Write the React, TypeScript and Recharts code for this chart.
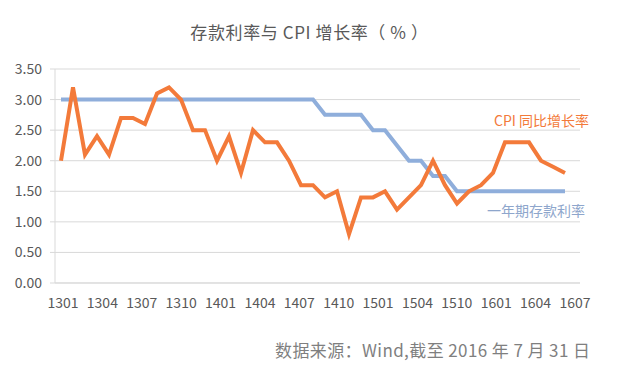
import { CartesianGrid, Line, LineChart, XAxis, YAxis } from 'recharts';

// monthly observations, 1301 .. 1607
const months = [
  '1301', '1302', '1303', '1304', '1305', '1306', '1307', '1308', '1309', '1310', '1311', '1312',
  '1401', '1402', '1403', '1404', '1405', '1406', '1407', '1408', '1409', '1410', '1411', '1412',
  '1501', '1502', '1503', '1504', '1505', '1506', '1507', '1508', '1509', '1510', '1511', '1512',
  '1601', '1602', '1603', '1604', '1605', '1606', '1607',
];

const depositRate = [
  3.0, 3.0, 3.0, 3.0, 3.0, 3.0, 3.0, 3.0, 3.0, 3.0, 3.0, 3.0,
  3.0, 3.0, 3.0, 3.0, 3.0, 3.0, 3.0, 3.0, 3.0, 3.0, 2.75, 2.75,
  2.75, 2.75, 2.5, 2.5, 2.25, 2.0, 2.0, 1.75, 1.75, 1.5, 1.5, 1.5,
  1.5, 1.5, 1.5, 1.5, 1.5, 1.5, 1.5,
];

const cpiGrowth = [
  2.0, 3.2, 2.1, 2.4, 2.1, 2.7, 2.7, 2.6, 3.1, 3.2, 3.0, 2.5,
  2.5, 2.0, 2.4, 1.8, 2.5, 2.3, 2.3, 2.0, 1.6, 1.6, 1.4, 1.5,
  0.8, 1.4, 1.4, 1.5, 1.2, 1.4, 1.6, 2.0, 1.6, 1.3, 1.5, 1.6,
  1.8, 2.3, 2.3, 2.3, 2.0, 1.9, 1.8,
];

// axis labels as printed under the chart (evenly spaced, not tied to months)
const tickLabels = [
  '1301', '1304', '1307', '1310', '1401', '1404', '1407',
  '1410', '1501', '1504', '1510', '1601', '1604', '1607',
];

const yTicks = [0, 0.5, 1, 1.5, 2, 2.5, 3, 3.5];

const FONT = '"Noto Sans CJK SC", "Noto Sans", sans-serif';
const ORANGE = '#F37A3A';
const BLUE = '#8FAEDB';
const GRID = '#D9D9D9';
const TEXT = '#595959';

const chartData = months.map((m, i) => ({
  month: m,
  deposit: depositRate[i],
  cpi: cpiGrowth[i],
}));

const labelData = tickLabels.map((label) => ({ label }));

export default function App() {
  return (
    <div
      style={{
        position: 'absolute',
        left: 0,
        top: 0,
        width: 637,
        height: 378,
        background: '#fff',
        fontFamily: FONT,
      }}
    >
      <div
        style={{
          position: 'absolute',
          top: 19,
          left: 0,
          width: 619,
          textAlign: 'center',
          fontSize: 17,
          letterSpacing: 0.6,
          color: TEXT,
        }}
      >
        存款利率与 CPI 增长率（ % ）
      </div>

      <LineChart
        width={637}
        height={378}
        margin={{ top: 69, right: 57, bottom: 65, left: 10 }}
      >
        <CartesianGrid stroke={GRID} vertical={false} />

        <XAxis
          xAxisId="data"
          dataKey="month"
          hide
          height={0}
          allowDuplicatedCategory={false}
          padding={{ left: 6, right: 15 }}
        />

        <XAxis
          xAxisId="lbl"
          dataKey="label"
          interval={0}
          padding={{ left: 8, right: 5 }}
          height={30}
          axisLine={{ stroke: GRID }}
          tickLine={false}
          tickMargin={9}
          tick={{ fill: TEXT, fontSize: 14, fontFamily: FONT }}
        />

        <YAxis
          domain={[0, 3.5]}
          ticks={yTicks}
          width={45}
          axisLine={{ stroke: GRID }}
          tickLine={{ stroke: GRID }}
          tickSize={5}
          tickMargin={8}
          tick={{ fill: TEXT, fontSize: 14, fontFamily: FONT }}
          tickFormatter={(v) => Number(v).toFixed(2)}
        />

        {/* carries the printed axis labels only, draws nothing */}
        <Line
          xAxisId="lbl"
          data={labelData}
          dataKey="none"
          stroke="none"
          dot={false}
          legendType="none"
          isAnimationActive={false}
        />

        <Line
          xAxisId="data"
          data={chartData}
          type="linear"
          dataKey="deposit"
          stroke={BLUE}
          strokeWidth={4}
          dot={false}
          isAnimationActive={false}
        />

        <Line
          xAxisId="data"
          data={chartData}
          type="linear"
          dataKey="cpi"
          stroke={ORANGE}
          strokeWidth={4}
          dot={false}
          isAnimationActive={false}
        />
      </LineChart>

      <div
        style={{
          position: 'absolute',
          left: 494,
          top: 110,
          fontSize: 14,
          color: ORANGE,
        }}
      >
        CPI 同比增长率
      </div>
      <div
        style={{
          position: 'absolute',
          left: 487,
          top: 200,
          fontSize: 14,
          color: '#8EA6CC',
        }}
      >
        一年期存款利率
      </div>

      <div
        style={{
          position: 'absolute',
          left: 275,
          top: 337,
          fontSize: 17,
          letterSpacing: 0.4,
          color: '#7F7F7F',
        }}
      >
        数据来源：Wind,截至 2016 年 7 月 31 日
      </div>
    </div>
  );
}
